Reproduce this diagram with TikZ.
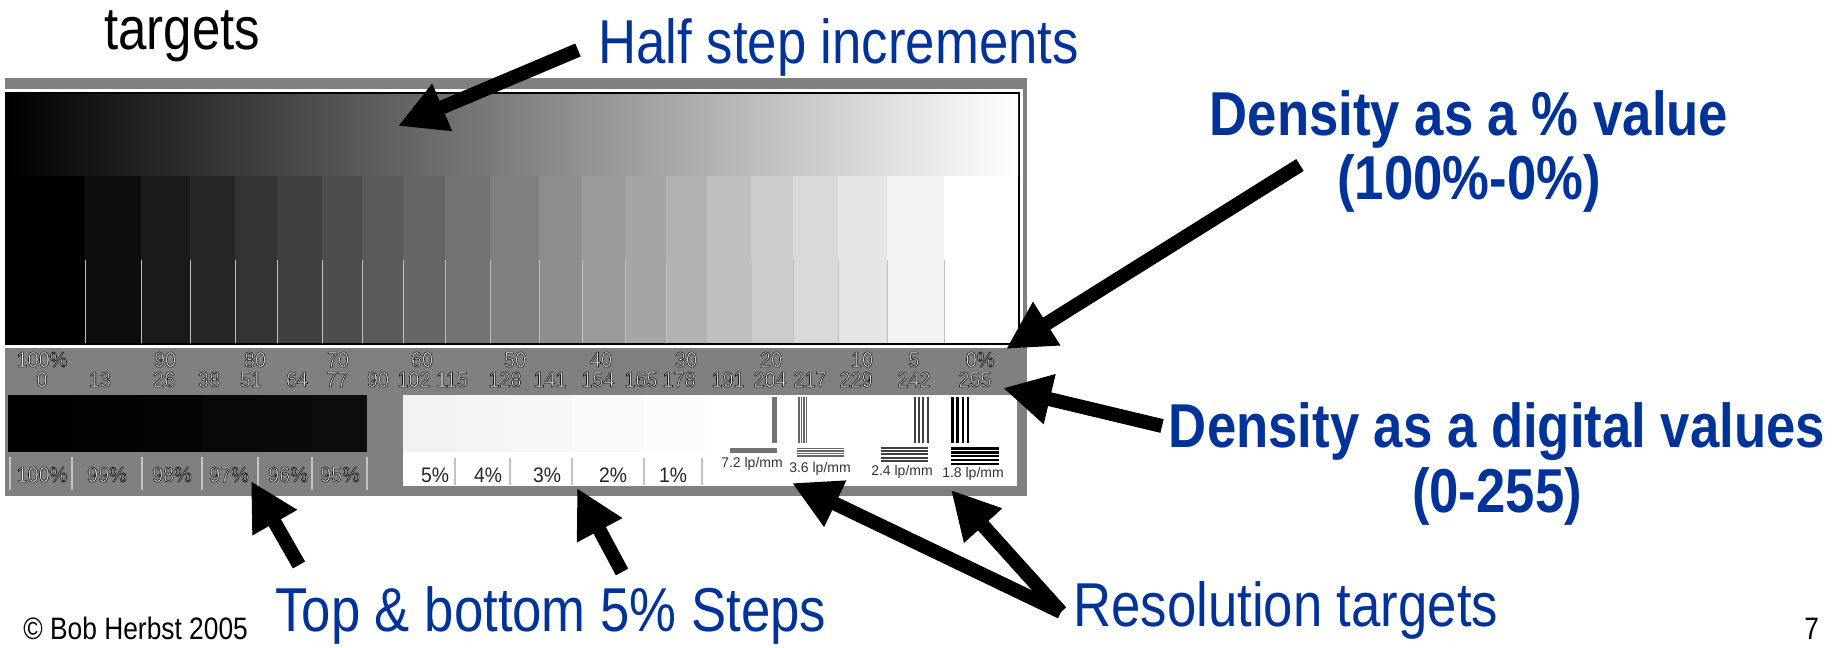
\documentclass[tikz,border=0pt]{standalone}
\usepackage{fontspec}
\setmainfont{Liberation Sans}
\newfontfamily\narrowfont[FakeStretch=0.85]{Liberation Sans}
\newfontfamily\labelfont[FakeStretch=0.92]{Liberation Sans}
\usetikzlibrary{arrows.meta}

\definecolor{calloutblue}{RGB}{0,51,153}
\definecolor{framegray}{RGB}{128,128,128}
\definecolor{rulegray}{RGB}{195,195,195}

% light letters with a dark rim (fill + stroke render mode)
\newcommand{\rimtext}[1]{\special{pdf:literal direct 2 Tr 0.32 w 0.1 G}#1\special{pdf:literal direct 0 Tr}}

\tikzset{
  bigarrow/.style={line width=7pt,-{Triangle[length=24pt,width=24pt]}},
  callout/.style={anchor=base west,inner sep=0pt,text=calloutblue,font=\narrowfont\fontsize{31}{33}\selectfont},
  calloutbold/.style={anchor=base,inner sep=0pt,text=calloutblue,font=\narrowfont\bfseries\fontsize{31}{33}\selectfont},
  steplabel/.style={anchor=base,inner sep=0pt,text=white!95!black,font=\labelfont\fontsize{10.8}{12}\selectfont},
  patchlabel/.style={anchor=base,inner sep=0pt,text=black!85,font=\labelfont\fontsize{10.5}{12}\selectfont},
  lpmmlabel/.style={anchor=base,inner sep=0pt,text=black!80,font=\fontsize{7}{8}\selectfont},
  footer/.style={anchor=base west,inner sep=0pt,font=\narrowfont\fontsize{15.5}{17}\selectfont},
  separator/.style={rulegray,line width=1pt},
}

\begin{document}
\begin{tikzpicture}[x=0.5pt,y=-0.5pt]
\useasboundingbox (0,0) rectangle (1839,647);

%Shape: Frame
\fill[framegray] (5,78) rectangle (1027,496);
%Shape: Top panel border
\fill[white] (5,89.5) rectangle (1023,347.5);
\fill[black] (5,92.5) rectangle (1020,345);
%Shape: Gradient
\shade[left color=black,right color=white] (5,95) rectangle (1018,176);
%Shape: Steps
\foreach \xa/\xb/\v in {5/85/0,85/141/13,141/190/26,190/235/38,235/277/51,277/322/64,322/362/77,362/403/90,403/445/102,445/490/115,490/539/128,539/582/141,582/625/154,625/666/165,666/707/178,707/751/191,751/793/204,793/838/217,838/887/229,887/944/242,944/1018/255}
  \fill[fill={rgb,255:red,\v;green,\v;blue,\v}] (\xa,176) rectangle (\xb,343);
\foreach \xb in {85,141,190,235,277,322,362,403,445,490,539,582,625,666,707,751,793,838,887,944}
  \draw[white!75!black,line width=0.5pt] (\xb,260) -- (\xb,343);

% Text Node
\foreach \cx/\t [count=\i] in {42/100\%,165/90,255/80,338/70,422/60,515/50,601/40,686/30,771/20,862/10,914/5,980/0\%}
  \node[steplabel] (pct\i) at (\cx,367) {\rimtext{\t}};
\foreach \cx/\t [count=\i] in {42/0,100/13,164/26,209/38,251/51,297/64,337/77,378/90,414/102,452/115,505/128,550/141,598/154,641/165,679/178,728/191,770/204,810/217,856/229,914/242,975/255}
  \node[steplabel] (dig\i) at (\cx,387) {\rimtext{\t}};

%Shape: Dark patches
\foreach \xa/\xb/\v in {8/72/0,72/142/3,142/202/5,202/258/8,258/312/10,312/367/13}
  \fill[fill={rgb,255:red,\v;green,\v;blue,\v}] (\xa,395) rectangle (\xb,452);
\foreach \xs in {10,72,142,202,258,312,367}
  \draw[separator] (\xs,457) -- (\xs,490);
\foreach \cx/\t [count=\i] in {42/100\%,107/99\%,172/98\%,229/97\%,288/96\%,340/95\%}
  \node[steplabel] (dark\i) at (\cx,482) {\rimtext{\t}};

%Shape: Light patches
\fill[white] (403,395) rectangle (1017,486);
\foreach \xa/\xb/\v in {403/456/242,456/511/245,511/572/247,572/644/250,644/705/252}
  \fill[fill={rgb,255:red,\v;green,\v;blue,\v}] (\xa,395) rectangle (\xb,452);
\foreach \xs in {455,510,572,644,702}
  \draw[separator] (\xs,458) -- (\xs,485);
\foreach \cx/\t [count=\i] in {435/5\%,488/4\%,547/3\%,613/2\%,673/1\%}
  \node[patchlabel] (light\i) at (\cx,482) {\t};

%Shape: Resolution targets
\fill[black!55] (772,397) rectangle (777,443);
\fill[black!55] (730,448) rectangle (777,452.5);
\foreach \k in {0,...,3} {
  \draw[black!60,line width=0.8pt] (799+\k*2.5,397) -- (799+\k*2.5,443);
  \draw[black!60,line width=0.8pt] (797,448.5+\k*2.4) -- (844,448.5+\k*2.4);
}
\foreach \k in {0,...,3}
  \draw[black!75,line width=1pt] (915+\k*4.2,397) -- (915+\k*4.2,443);
\foreach \k in {0,...,4}
  \draw[black!75,line width=1pt] (881,448+\k*3.2) -- (928,448+\k*3.2);
\foreach \k in {0,...,3}
  \draw[black,line width=1.3pt] (952.5+\k*5.2,397) -- (952.5+\k*5.2,443);
\foreach \k in {0,...,4}
  \draw[black,line width=1.2pt] (951,448.5+\k*3.8) -- (999,448.5+\k*3.8);
\node[lpmmlabel] (lp72) at (752,467) {7.2 lp/mm};
\node[lpmmlabel] (lp36) at (820,472) {3.6 lp/mm};
\node[lpmmlabel] (lp24) at (902,475) {2.4 lp/mm};
\node[lpmmlabel] (lp18) at (973,477) {1.8 lp/mm};

% Text Node
\node[callout,text=black,font=\narrowfont\fontsize{30}{32}\selectfont] (title) at (104,50) {targets};
% Text Node
\node[callout] (halfstep) at (598,64) {Half step increments};
% Text Node
\node[calloutbold] (pctA) at (1469,135) {Density as a \% value};
\node[calloutbold] (pctB) at (1469,199) {(100\%-0\%)};
% Text Node
\node[calloutbold] (digA) at (1497,447) {Density as a digital values};
\node[calloutbold] (digB) at (1497,512) {(0-255)};
% Text Node
\node[callout] (steps) at (275,631) {Top \& bottom 5\% Steps};
% Text Node
\node[callout] (restargets) at (1073,626) {Resolution targets};
% Text Node
\node[footer] (copy) at (23,639) {\textcopyright{} Bob Herbst 2005};
\node[footer] (pageno) at (1804,639) {7};

%Straight Lines
\coordinate (halfTail) at (578,50);
\coordinate (halfTip) at (398,126);
\coordinate (pctTail) at (1300,165);
\coordinate (pctTip) at (1006,349);
\coordinate (digTail) at (1162,426);
\coordinate (digTip) at (1003,388);
\coordinate (stepTailA) at (299,565);
\coordinate (stepTipA) at (251,481);
\coordinate (stepTailB) at (622,572);
\coordinate (stepTipB) at (577,488);
\coordinate (resTail) at (1061,612);
\coordinate (resTipA) at (792,483);
\coordinate (resTipB) at (951,490);
\draw[bigarrow] (halfTail) -- (halfTip);
\draw[bigarrow] (pctTail) -- (pctTip);
\draw[bigarrow] (digTail) -- (digTip);
\draw[bigarrow] (stepTailA) -- (stepTipA);
\draw[bigarrow] (stepTailB) -- (stepTipB);
\draw[bigarrow] (resTail) -- (resTipA);
\draw[bigarrow] (resTail) -- (resTipB);

\end{tikzpicture}
\end{document}
